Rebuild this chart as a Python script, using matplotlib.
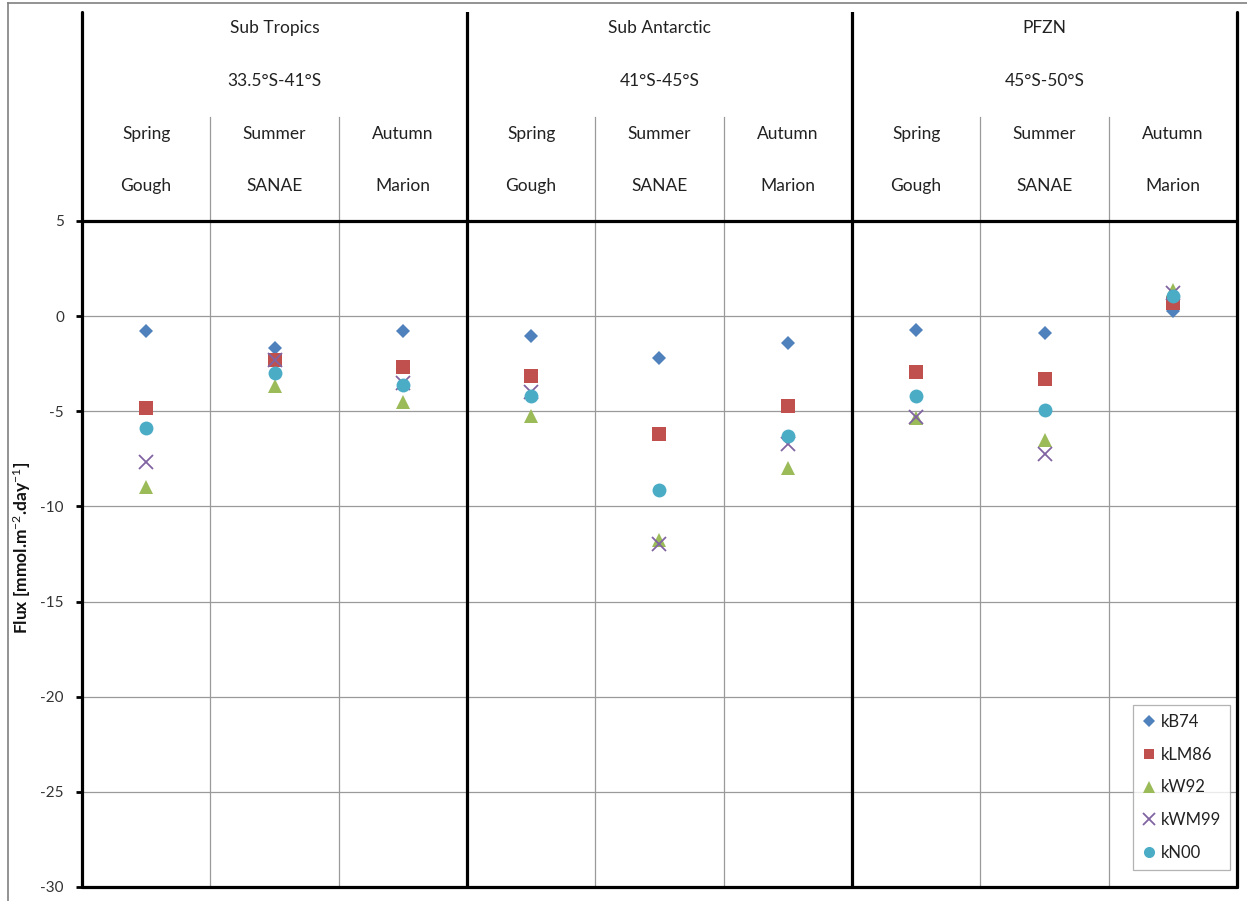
import matplotlib
matplotlib.use("Agg")
import matplotlib.pyplot as plt
from matplotlib.lines import Line2D

# Zones, seasons and stations for each column of the chart
zones = ["Sub Tropics", "Sub Antarctic", "PFZN"]
zone_ranges = ["33.5°S-41°S", "41°S-45°S", "45°S-50°S"]
seasons = ["Spring", "Summer", "Autumn"] * 3
stations = ["Gough", "SANAE", "Marion"] * 3

# CO2 flux estimates per gas-transfer parameterisation [mmol m-2 day-1]
kB74 = [-0.8, -1.7, -0.8, -1.05, -2.2, -1.4, -0.75, -0.87, 0.25]
kLM86 = [-4.85, -2.3, -2.65, -3.15, -6.2, -4.7, -2.95, -3.3, 0.7]
kW92 = [-9.0, -3.65, -4.5, -5.25, -11.75, -8.0, -5.35, -6.5, 1.35]
kWM99 = [-7.65, -2.3, -3.5, -4.0, -11.95, -6.7, -5.3, -7.25, 1.2]
kN00 = [-5.9, -3.0, -3.6, -4.2, -9.15, -6.3, -4.2, -4.95, 1.05]

series_names = ["kB74", "kLM86", "kW92", "kWM99", "kN00"]
series_values = [kB74, kLM86, kW92, kWM99, kN00]
yticks = [5, 0, -5, -10, -15, -20, -25, -30]

styles = {
    "kB74": dict(marker="D", color="#4F81BD", ms=7.5, mew=0),
    "kLM86": dict(marker="s", color="#C0504D", ms=9.5, mew=0),
    "kW92": dict(marker="^", color="#9BBB59", ms=10, mew=0),
    "kWM99": dict(marker="x", color="#8064A2", ms=10, mew=1.3),
    "kN00": dict(marker="o", color="#4BACC6", ms=10, mew=0),
}

plt.rcParams["font.family"] = ["Lato", "DejaVu Sans"]
plt.rcParams["mathtext.fontset"] = "custom"
plt.rcParams["mathtext.rm"] = "Lato"
plt.rcParams["mathtext.it"] = "Lato:italic"
plt.rcParams["mathtext.bf"] = "Lato:bold"

W, H = 1247, 901
fig = plt.figure(figsize=(W / 100, H / 100), dpi=100)
fig.patch.set_facecolor("white")

# axes spans the header table and the plot area
left_px, right_px, top_px, bot_px = 82, 1237, 12, 887
ax = fig.add_axes([left_px / W, 1 - bot_px / H,
                   (right_px - left_px) / W, (bot_px - top_px) / H])

ymin, ymax_plot = -30, 5
px_per_unit = (bot_px - 221) / (ymax_plot - ymin)
ytop = ymax_plot + (221 - top_px) / px_per_unit


def ypx(p):
    return ymax_plot + (221 - p) / px_per_unit


n = len(seasons)
ax.set_xlim(0, n)
ax.set_ylim(ymin, ytop)

thick = 2.3
grid_c = "#9a9a9a"

# horizontal gridlines
for v in yticks[1:-1]:
    ax.plot([0, n], [v, v], color=grid_c, lw=0.9, zorder=1)
ax.plot([0, n], [ymax_plot, ymax_plot], color="black", lw=thick, zorder=3,
        solid_capstyle="projecting")

# vertical separators
for i in range(1, n):
    if i % 3 == 0:
        ax.plot([i, i], [ymin, ytop], color="black", lw=thick, zorder=3)
    else:
        ax.plot([i, i], [ymin, ypx(117)], color=grid_c, lw=0.9, zorder=1)

ax.spines["top"].set_visible(False)
for sp in ["left", "right", "bottom"]:
    ax.spines[sp].set_linewidth(thick)
    ax.spines[sp].set_color("black")
    ax.spines[sp].set_capstyle("round")

ax.set_xticks([])
ax.set_yticks(yticks)
ax.set_yticklabels([str(t) for t in yticks])
ax.tick_params(axis="y", length=4, width=2, color="black", pad=9,
               labelsize=11, labelcolor="#333333")

# header texts
hdr_kw = dict(ha="center", va="center", fontsize=12.5, color="#222222")
for z in range(3):
    xc = 3 * z + 1.5
    ax.text(xc, ypx(28), zones[z], **hdr_kw)
    ax.text(xc, ypx(81), zone_ranges[z], **hdr_kw)
for i in range(n):
    ax.text(i + 0.5, ypx(134), seasons[i], **hdr_kw)
    ax.text(i + 0.5, ypx(186), stations[i], **hdr_kw)

# data markers
xpos = [i + 0.5 for i in range(n)]
handles = []
for name, vals in zip(series_names, series_values):
    st = styles[name]
    ax.plot(xpos, vals, linestyle="none", marker=st["marker"], color=st["color"],
            markersize=st["ms"], markeredgewidth=st["mew"], zorder=5,
            clip_on=False)
    handles.append(Line2D([], [], linestyle="none", marker=st["marker"],
                          color=st["color"], markersize=st["ms"] * 0.8,
                          markeredgewidth=st["mew"]))

fig.text(22 / W, 1 - 548 / H, "Flux [mmol.m$^{-2}$.day$^{-1}$]", fontsize=12.5,
         fontweight="bold", rotation=90, ha="center", va="center", color="#111111")

leg = fig.legend(handles, series_names, loc="upper left",
                 bbox_to_anchor=(1133 / W, 1 - 705 / H),
                 bbox_transform=fig.transFigure, fontsize=12,
                 frameon=True, fancybox=False, handlelength=0.8,
                 handletextpad=0.3, labelspacing=1.0, borderpad=0.55,
                 borderaxespad=0)
leg.get_frame().set_edgecolor("#a0a0a0")
leg.get_frame().set_linewidth(0.9)
for t in leg.get_texts():
    t.set_color("#222222")

# outer chart border
fig.add_artist(Line2D([8 / W, 8 / W], [0, 1 - 3 / H], transform=fig.transFigure,
                      color="#808080", lw=1.2))
fig.add_artist(Line2D([8 / W, 1], [1 - 3 / H, 1 - 3 / H], transform=fig.transFigure,
                      color="#808080", lw=1.2))

fig.savefig("out.png", dpi=100, facecolor="white")
